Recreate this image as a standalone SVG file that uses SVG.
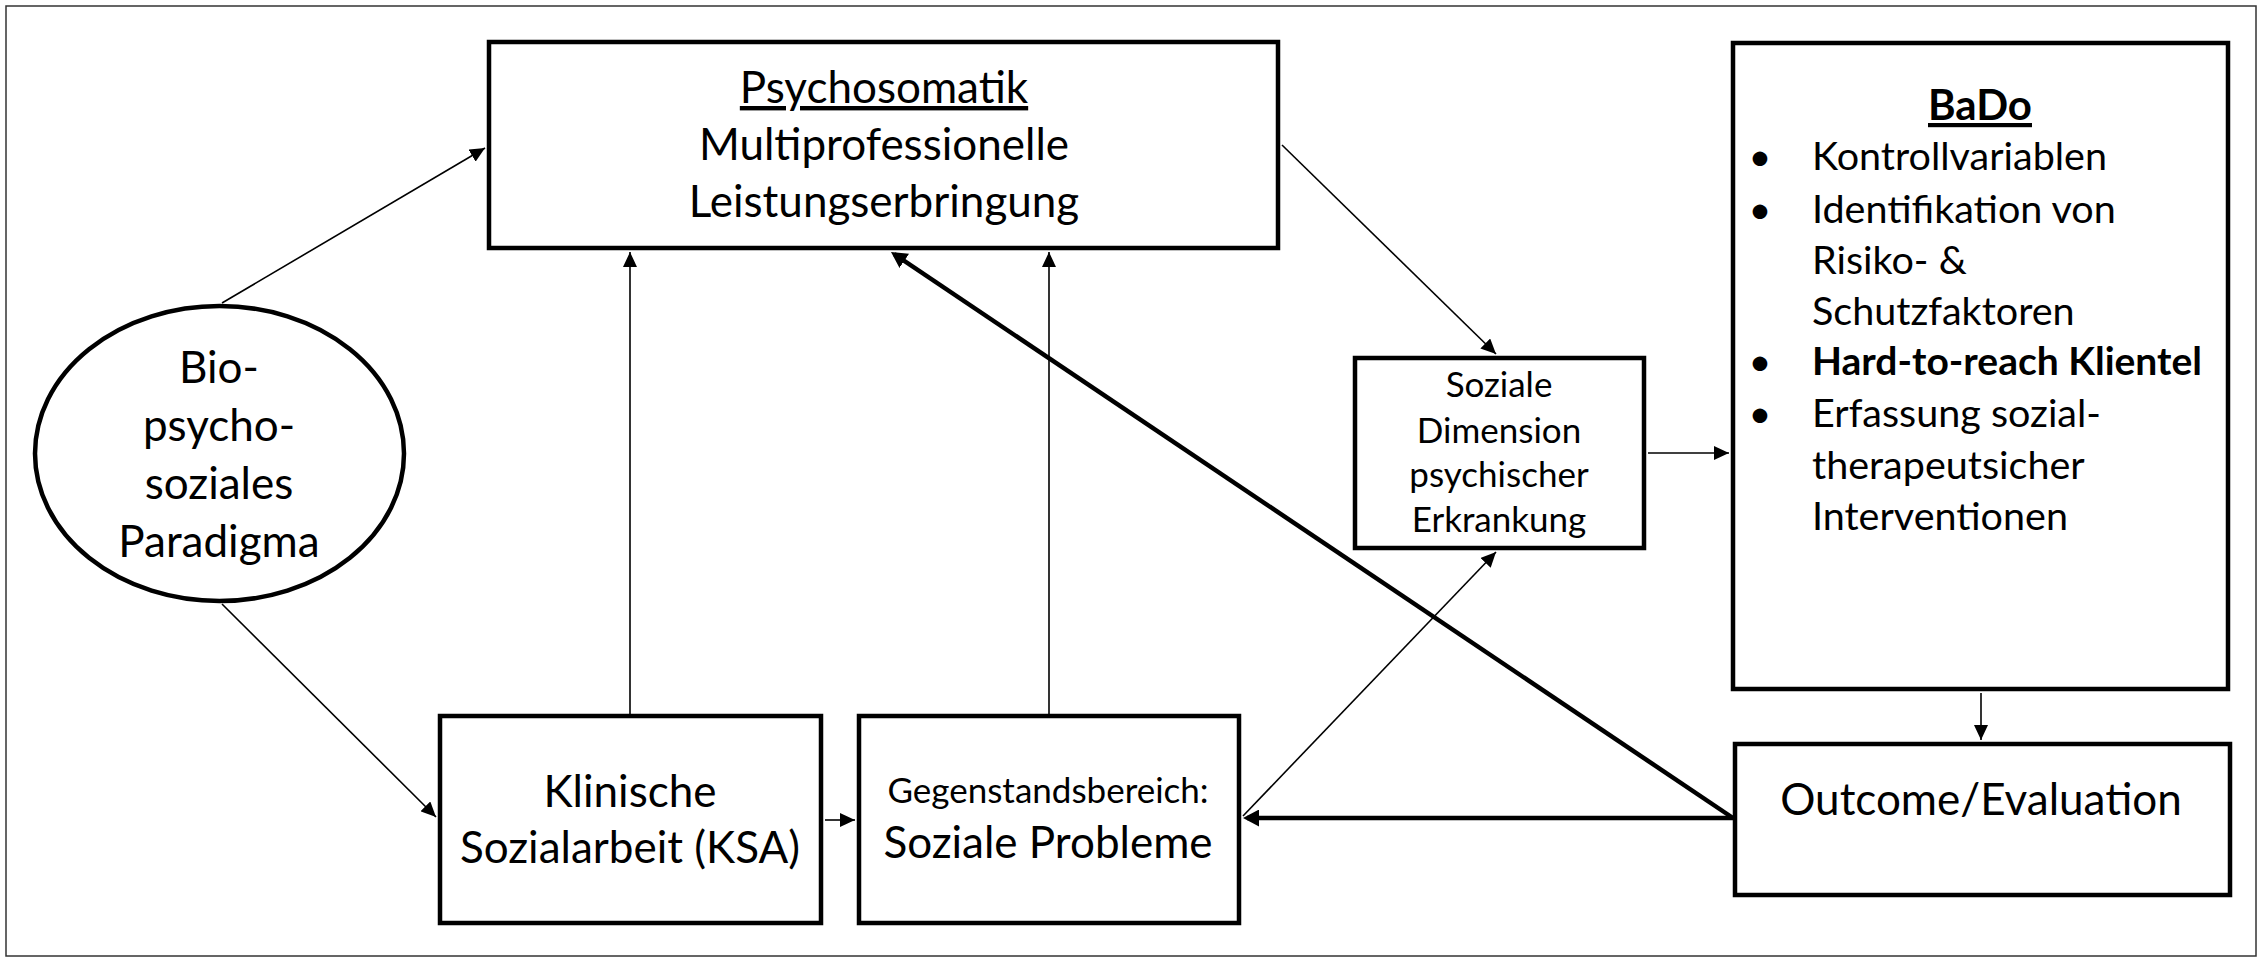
<svg xmlns="http://www.w3.org/2000/svg" width="2260" height="958" viewBox="0 0 2260 958">
<style>
.box{fill:#fff;stroke:#000;stroke-width:4.5}
.t{font-family:Lato,"Liberation Sans",sans-serif;fill:#000;text-anchor:middle}
.l{font-family:Lato,"Liberation Sans",sans-serif;fill:#000}
.thin{fill:none;stroke:#000;stroke-width:1.6}
.thick{fill:none;stroke:#000;stroke-width:4.5}
.m{font-size:44px}
.s{font-size:35px}
.b{font-size:39.5px}
</style>
<defs>
<marker id="a" viewBox="0 0 15 14" refX="15" refY="7" markerWidth="15" markerHeight="14" orient="auto" markerUnits="userSpaceOnUse"><path d="M0,0 L15,7 L0,14 z" fill="#000"/></marker>
<marker id="b" viewBox="0 0 16 17" refX="12" refY="8.5" markerWidth="16" markerHeight="17" orient="auto" markerUnits="userSpaceOnUse"><path d="M0,0 L16,8.5 L0,17 z" fill="#000"/></marker>
</defs>
<rect x="6" y="6" width="2250" height="950" fill="#fff" stroke="#333" stroke-width="1.5"/>
<g id="connectors">
<line class="thin" x1="222" y1="303" x2="485" y2="148" marker-end="url(#a)"/>
<line class="thin" x1="222" y1="604" x2="436" y2="817" marker-end="url(#a)"/>
<line class="thin" x1="630" y1="714" x2="630" y2="252" marker-end="url(#a)"/>
<line class="thin" x1="1049" y1="714" x2="1049" y2="252" marker-end="url(#a)"/>
<line class="thin" x1="825" y1="820" x2="855" y2="820" marker-end="url(#a)"/>
<line class="thin" x1="1282" y1="145" x2="1496" y2="354" marker-end="url(#a)"/>
<line class="thin" x1="1243" y1="816" x2="1496" y2="552" marker-end="url(#a)"/>
<line class="thin" x1="1648" y1="453" x2="1729" y2="453" marker-end="url(#a)"/>
<line class="thin" x1="1981" y1="693" x2="1981" y2="740" marker-end="url(#a)"/>
<line class="thick" x1="1733" y1="818" x2="1247" y2="818" marker-end="url(#b)"/>
<line class="thick" x1="1733" y1="818" x2="894.3" y2="254.2" marker-end="url(#b)"/>
</g>
<g id="psychosomatik">
<rect class="box" x="489" y="42" width="789" height="206"/>
<text class="t m" x="884" y="103" text-decoration="underline">Psychosomatik</text>
<text class="t m" x="884" y="160">Multiprofessionelle</text>
<text class="t m" x="884" y="217">Leistungserbringung</text>
</g>
<g id="paradigma">
<ellipse cx="219.5" cy="453.5" rx="184.5" ry="147.5" fill="#fff" stroke="#000" stroke-width="4.5"/>
<text class="t m" x="219" y="383">Bio-</text>
<text class="t m" x="219" y="441">psycho-</text>
<text class="t m" x="219" y="499">soziales</text>
<text class="t m" x="219" y="557">Paradigma</text>
</g>
<g id="ksa">
<rect class="box" x="440" y="716" width="381" height="207"/>
<text class="t m" x="630" y="807">Klinische</text>
<text class="t m" x="630" y="863">Sozialarbeit (KSA)</text>
</g>
<g id="soziale-probleme">
<rect class="box" x="859" y="716" width="380" height="207"/>
<text class="t s" x="1048" y="803">Gegenstandsbereich:</text>
<text class="t m" x="1048" y="858">Soziale Probleme</text>
</g>
<g id="soziale-dimension">
<rect class="box" x="1355" y="358" width="289" height="190"/>
<text class="t s" x="1499" y="397">Soziale</text>
<text class="t s" x="1499" y="443">Dimension</text>
<text class="t s" x="1499" y="487">psychischer</text>
<text class="t s" x="1499" y="532">Erkrankung</text>
</g>
<g id="bado">
<rect class="box" x="1733" y="43" width="495" height="646"/>
<text class="t" x="1980" y="120" font-size="42" font-weight="bold" text-decoration="underline">BaDo</text>
<text class="t b" x="1760" y="170">•</text>
<text class="l b" x="1812" y="170">Kontrollvariablen</text>
<text class="t b" x="1760" y="223">•</text>
<text class="l b" x="1812" y="223">Identifikation von</text>
<text class="l b" x="1812" y="274">Risiko- &amp;</text>
<text class="l b" x="1812" y="325">Schutzfaktoren</text>
<text class="t b" x="1760" y="375">•</text>
<text class="l" x="1812" y="375" font-size="39" font-weight="bold">Hard-to-reach Klientel</text>
<text class="t b" x="1760" y="427">•</text>
<text class="l b" x="1812" y="427">Erfassung sozial-</text>
<text class="l b" x="1812" y="479">therapeutsicher</text>
<text class="l b" x="1812" y="530">Interventionen</text>
</g>
<g id="outcome">
<rect class="box" x="1735" y="744" width="495" height="151"/>
<text class="t m" x="1981" y="815">Outcome/Evaluation</text>
</g>
</svg>
